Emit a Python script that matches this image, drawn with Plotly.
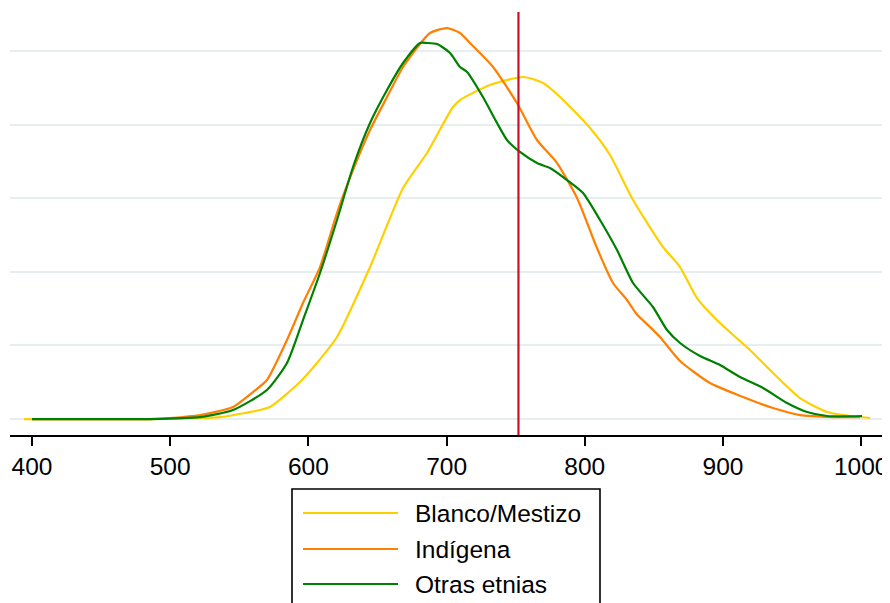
import plotly.graph_objects as go

# Blanco/Mestizo
x_blanco = [394.2, 485.4, 521.6, 536.0, 554.1, 572.2, 593.9, 606.2, 620.7, 644.6, 668.5, 685.8,
            704.6, 709.7, 731.4, 755.3, 769.8, 782.1, 803.8, 818.2, 834.9, 856.6, 868.9, 881.2,
            897.8, 919.5, 936.2, 955.7, 975.3, 991.9, 1006.4]
y_blanco = [0.000000, 0.000000, 0.000014, 0.000027, 0.000082, 0.000163, 0.000503, 0.000761,
            0.001114, 0.002065, 0.003138, 0.003614, 0.004239, 0.004334, 0.004538, 0.004647,
            0.004565, 0.004375, 0.003954, 0.003587, 0.002976, 0.002337, 0.002065, 0.001644,
            0.001304, 0.000938, 0.000625, 0.000285, 0.000095, 0.000041, 0.000014]

# Indígena
x_indigena = [400.0, 485.4, 499.9, 521.6, 545.4, 559.9, 570.0, 584.5, 596.1, 608.4, 620.7, 632.3,
              644.6, 656.9, 668.5, 688.0, 700.3, 709.7, 716.9, 733.6, 750.9, 765.4, 779.9, 794.4,
              808.8, 820.4, 830.5, 837.8, 847.2, 854.4, 868.9, 890.6, 914.5, 936.2, 955.7, 979.6,
              999.1]
y_indigena = [0.000000, 0.000000, 0.000014, 0.000054, 0.000163, 0.000367, 0.000530, 0.001073,
              0.001576, 0.002065, 0.002799, 0.003383, 0.003927, 0.004375, 0.004783, 0.005245,
              0.005312, 0.005245, 0.005109, 0.004783, 0.004293, 0.003791, 0.003478, 0.003003,
              0.002323, 0.001848, 0.001617, 0.001420, 0.001250, 0.001114, 0.000788, 0.000489,
              0.000299, 0.000149, 0.000054, 0.000027, 0.000027]

# Otras etnias
x_otras = [400.0, 485.4, 521.6, 545.4, 570.0, 584.5, 596.1, 608.4, 620.7, 632.3, 644.6, 656.9,
           668.5, 680.8, 685.8, 693.1, 702.5, 709.7, 714.8, 726.3, 736.5, 743.7, 753.1, 765.4,
           774.8, 787.1, 798.7, 811.0, 823.3, 834.9, 849.3, 859.5, 868.9, 883.4, 897.8, 912.3,
           929.0, 946.3, 960.8, 975.3, 1000.6]
y_otras = [0.000000, 0.000000, 0.000027, 0.000122, 0.000394, 0.000761, 0.001345, 0.001984,
           0.002704, 0.003424, 0.004022, 0.004470, 0.004837, 0.005109, 0.005109, 0.005095,
           0.004973, 0.004783, 0.004715, 0.004375, 0.004022, 0.003791, 0.003628, 0.003478,
           0.003410, 0.003247, 0.003071, 0.002704, 0.002296, 0.001848, 0.001522, 0.001209,
           0.001033, 0.000856, 0.000734, 0.000571, 0.000421, 0.000217, 0.000095, 0.000041,
           0.000041]

series_names = ["Blanco/Mestizo", "Indígena", "Otras etnias"]
series_colors = ["#FFD000", "#FF7F00", "#008000"]

x_ticks = [400, 500, 600, 700, 800, 900, 1000]
y_grid = [0, 0.001, 0.002, 0.003, 0.004, 0.005]
ref_line_x = 752

# The page body adds an 8px offset; figure is sized so the plot lands in the window.
FIG_W, FIG_H = 882, 595
M_L, M_R, M_T, M_B = 2, 5, 4, 168
PLOT_W = FIG_W - M_L - M_R
PLOT_H = FIG_H - M_T - M_B
OFF = 8


def px_x(p):
    return (p - OFF - M_L) / PLOT_W


def px_y(p):
    return (FIG_H - M_B - (p - OFF)) / PLOT_H


fig = go.Figure()
for xs, ys, name, color in zip([x_blanco, x_indigena, x_otras],
                               [y_blanco, y_indigena, y_otras],
                               series_names, series_colors):
    fig.add_trace(go.Scatter(x=xs, y=ys, mode="lines", name=name, showlegend=False,
                             line=dict(color=color, width=2.2, shape="spline", smoothing=0.6)))

fig.add_shape(type="line", x0=ref_line_x, x1=ref_line_x, xref="x", yref="paper",
              y0=0, y1=1, line=dict(color="#C8102E", width=2.2), layer="above")

# Legend box (Stata style), drawn as shapes + text annotations
box_left, box_right, box_top, box_bottom = 292, 600, 489, 640
fig.add_shape(type="rect", xref="paper", yref="paper",
              x0=px_x(box_left), x1=px_x(box_right), y0=px_y(box_bottom), y1=px_y(box_top),
              line=dict(color="black", width=1.6), fillcolor="white", layer="above")
row_y = [513, 549, 584]
for name, color, ry in zip(series_names, series_colors, row_y):
    fig.add_shape(type="line", xref="paper", yref="paper",
                  x0=px_x(303), x1=px_x(398), y0=px_y(ry), y1=px_y(ry),
                  line=dict(color=color, width=2.2), layer="above")
    fig.add_annotation(xref="paper", yref="paper", x=px_x(413), y=px_y(ry),
                       xanchor="left", yanchor="middle", text=name, showarrow=False,
                       font=dict(size=24.5, color="black"))

fig.update_layout(
    width=FIG_W, height=FIG_H,
    margin=dict(l=M_L, r=M_R, t=M_T, b=M_B, autoexpand=False),
    paper_bgcolor="white", plot_bgcolor="white",
    font=dict(family="Liberation Sans, Arial, sans-serif", size=24, color="black"),
    xaxis=dict(range=[384.1, 1017.2], tickvals=x_ticks, ticks="outside", ticklen=9,
               tickwidth=1.5, tickcolor="black", showline=True, linecolor="black",
               linewidth=1.5, showgrid=False, zeroline=False, automargin=False,
               tickfont=dict(size=24.5, color="black")),
    yaxis=dict(range=[-0.000217, 0.00553], tickvals=y_grid, showticklabels=False,
               showgrid=True, gridcolor="#E6EEF0", gridwidth=2, zeroline=False,
               showline=False, ticks="", automargin=False),
    showlegend=False,
)

fig.write_html("out.html")
